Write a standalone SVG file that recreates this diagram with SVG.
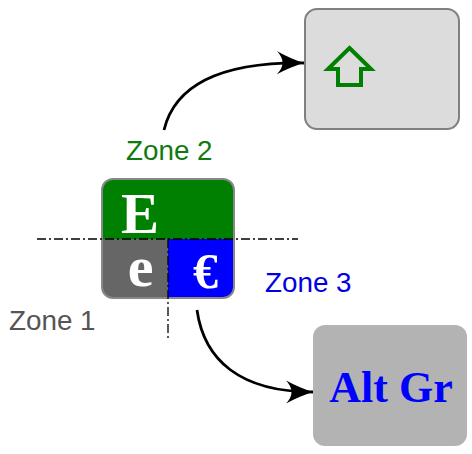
<svg xmlns="http://www.w3.org/2000/svg" width="472" height="454" viewBox="0 0 472 454">
<style>
.t{font-family:"Liberation Sans",Arial,sans-serif;font-size:27.8px}
.b{font-family:"Liberation Serif","Times New Roman",serif;font-weight:bold}
.c{fill:none;stroke:#000;stroke-width:2.8}
.d{fill:none;stroke:#000;stroke-width:1.3;stroke-dasharray:9 3 2 3}
</style>
<defs><marker id="a" markerUnits="userSpaceOnUse" markerWidth="30" markerHeight="26" refX="28" refY="13" orient="auto"><path d="M1 1.500Q15 9 28 13Q15 17 1 24.500Q12 13 1 1.500Z" fill="#000"/></marker></defs>
<g id="key">
<path d="M102 239V190Q102 179 113 179H223Q234 179 234 190V239Z" fill="#008000"/>
<path d="M102 239H168V298H113Q102 298 102 287Z" fill="#666"/>
<path d="M168 239H234V287Q234 298 223 298H168Z" fill="#0000ff"/>
<rect x="102" y="179" width="132" height="119" rx="11" fill="none" stroke="#888" stroke-width="2"/>
<text x="140" y="233" text-anchor="middle" class="b" font-size="57" fill="#fff">E</text>
<text x="140.500" y="286" text-anchor="middle" class="b" font-size="58" fill="#fff">e</text>
<text x="205.500" y="288" text-anchor="middle" class="b" font-size="50" fill="#fff">€</text>
</g>
<g id="shift"><rect x="305" y="9" width="154" height="120" rx="12" fill="#dcdcdc" stroke="#808080" stroke-width="2"/>
<path d="M349.500 48L371 69H361V85H338V69H328Z" fill="none" stroke="#008000" stroke-width="4"/></g>
<g id="altgr"><rect x="313" y="325" width="154" height="121" rx="12" fill="#b3b3b3"/>
<text x="391" y="402" text-anchor="middle" class="b" font-size="44" fill="#0000ff">Alt Gr</text></g>
<g id="connectors">
<path class="d" d="M37 239H298"/><path class="d" d="M168 239V338"/>
<path class="c" marker-end="url(#a)" d="M164 130C175 85 220 62 304 63"/>
<path class="c" marker-end="url(#a)" d="M197 310C204 360 240 392 313 392"/>
</g>
<g id="labels">
<text x="126" y="160" class="t" fill="#107a10">Zone 2</text>
<text x="265" y="292" class="t" fill="#0000e0">Zone 3</text>
<text x="9" y="330" class="t" fill="#555">Zone 1</text>
</g>
</svg>
